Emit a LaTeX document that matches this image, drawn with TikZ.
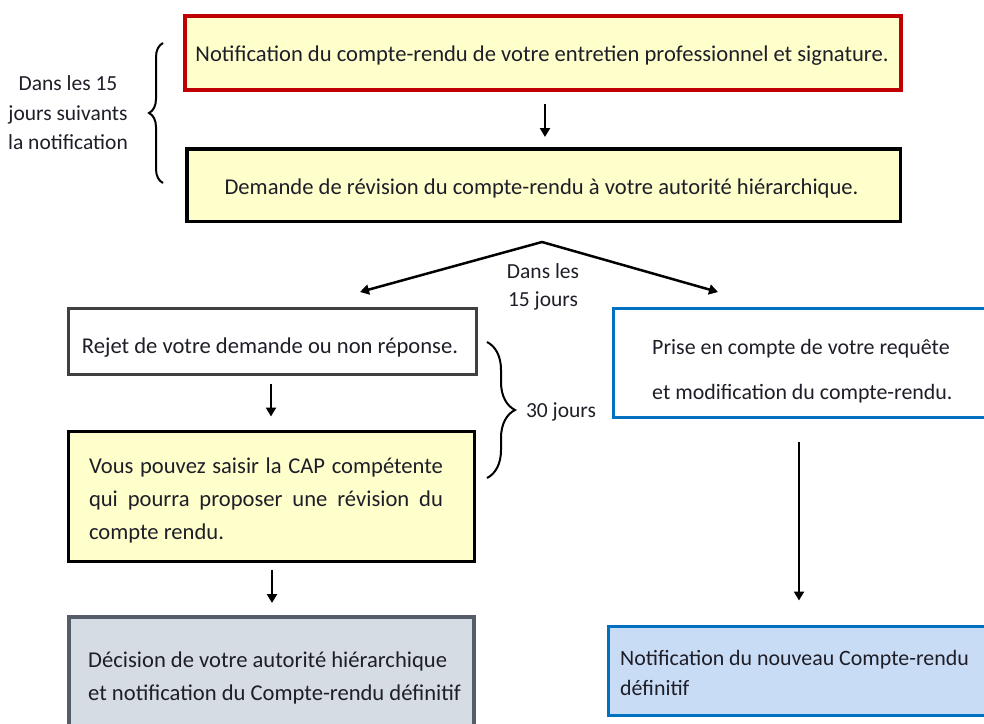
\documentclass[tikz,border=0pt]{standalone}
\usepackage{fontspec}
\setmainfont{Carlito}
\usetikzlibrary{arrows.meta,decorations.pathreplacing}
\definecolor{yfill}{HTML}{FFFFCC}
\definecolor{redb}{HTML}{C00000}
\definecolor{blueb}{HTML}{0070C0}
\definecolor{bfill}{HTML}{C9DCF5}
\definecolor{gfill}{HTML}{D6DCE4}
\definecolor{gborder}{HTML}{565C68}
\definecolor{rborder}{HTML}{404040}
\definecolor{txt}{HTML}{1E1E28}
\begin{document}
\begin{tikzpicture}[x=1pt,y=-1pt,
  every node/.style={font=\fontsize{22.6}{30}\selectfont, text=txt},
  box/.style={draw, rectangle, inner sep=0pt},
  txtl/.style={inner sep=0pt, anchor=west, align=left},
  txtb/.style={inner sep=0pt, anchor=base},
  rfont/.style={font=\fontsize{21.9}{30}\selectfont},
  lfont/.style={font=\fontsize{21.5}{29.5}\selectfont},
  arr/.style={-{Triangle[length=9pt,width=10pt]}, line width=2.5pt, black},
  brc/.style={decorate, decoration={brace, amplitude=#1}, line width=2pt, black}]
\useasboundingbox (0,0) rectangle (984,723);

% boxes
\node[box, draw=redb, line width=4pt, fill=yfill, minimum width=716pt, minimum height=74pt] (b1) at (543,53) {};
\node[box, draw=black, line width=3.5pt, fill=yfill, minimum width=713.5pt, minimum height=72.5pt] (b2) at (543.5,185) {};
\node[box, draw=rborder, line width=3pt, fill=white, minimum width=408pt, minimum height=66pt] (rej) at (272.5,341.5) {};
\node[box, draw=black, line width=3pt, fill=yfill, minimum width=406pt, minimum height=130pt] (cap) at (271.5,496.5) {};
\node[box, draw=gborder, line width=4pt, fill=gfill, minimum width=405pt, minimum height=121pt] (dec) at (271.5,677.5) {};
\node[box, draw=blueb, line width=3pt, fill=white, minimum width=385pt, minimum height=109pt] (bt) at (806,363) {};
\node[box, draw=blueb, line width=3pt, fill=bfill, minimum width=390pt, minimum height=89pt] (bb) at (803.5,671) {};

% box texts
\node[txtb] (b1t) at (542,61.5) {Notification du compte-rendu de votre entretien professionnel et signature.};
\node[txtb] (b2t) at (541.5,194.5) {Demande de révision du compte-rendu à votre autorité hiérarchique.};
\node[txtb] (rejt) at (270,353) {Rejet de votre demande ou non réponse.};
\node[inner sep=0pt, text width=354pt, align=justify, font=\fontsize{22.6}{33}\selectfont] (capt) at (266,500)
  {Vous pouvez saisir la CAP compétente\linebreak qui pourra proposer une révision du\linebreak compte rendu.};
\node[txtl, font=\fontsize{22.6}{33}\selectfont] (dect) at (88,678)
  {Décision de votre autorité hiérarchique\\et notification du Compte-rendu définitif};
\node[txtl, font=\fontsize{21.9}{45}\selectfont] (btt) at (652,371)
  {Prise en compte de votre requête\\et modification du compte-rendu.};
\node[txtl, rfont] (bbt) at (620,673)
  {Notification du nouveau Compte-rendu\\définitif};

% connectors
\coordinate (apex) at (542,242);
\coordinate (tl) at (360,292);
\coordinate (tr) at (718,292);

\draw[arr, shorten <=12pt, shorten >=10pt] ([xshift=2pt]b1.south) -- ([xshift=1.5pt]b2.north);
\draw[arr, line cap=round] (apex) -- (tl);
\draw[arr, line cap=round] (apex) -- (tr);
\draw[arr, shorten <=7.5pt, shorten >=13.5pt] ([xshift=-1.5pt]rej.south) -- ([xshift=-0.5pt]cap.north);
\draw[arr, shorten <=6.5pt, shorten >=12pt] ([xshift=0.5pt]cap.south) -- ([xshift=0.5pt]dec.north);
\draw[arr, shorten <=22.5pt, shorten >=24.5pt] ([xshift=-7pt]bt.south) -- ([xshift=-4.5pt]bb.north);

% braces
\draw[brc=14pt] (163,183) -- (163,43);
\draw[brc=28pt] (487,342) -- (487,478);

% labels
\node[align=center, lfont] (l15) at (68,113) {Dans les 15\\jours suivants\\la notification};
\node[align=center, font=\fontsize{21.5}{28}\selectfont] (ldl) at (543,287) {Dans les\\15 jours};
\node[lfont] (l30) at (561,412) {30 jours};
\end{tikzpicture}
\end{document}
